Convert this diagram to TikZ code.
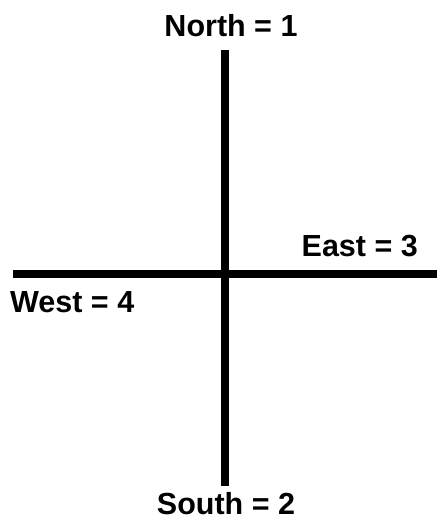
\documentclass[tikz,border=0pt]{standalone}
\usepackage{fontspec}
\setmainfont{Liberation Sans}
\begin{document}
\begin{tikzpicture}[x=1pt,y=-1pt,
  axis/.style={line width=8pt},
  lbl/.style={font=\fontsize{30.5}{32}\selectfont\bfseries, inner sep=0pt}]
\useasboundingbox (0,0) rectangle (437,524);
\coordinate (ntop) at (225,50);
\coordinate (sbot) at (225,486);
\coordinate (wend) at (13,274);
\coordinate (eend) at (437,274);
\draw[axis] (ntop) -- (sbot);
\draw[axis] (wend) -- (eend);
\node[lbl, anchor=base] (north) at (231,37) {North = 1};
\node[lbl, anchor=base] (south) at (226,514) {South = 2};
\node[lbl, anchor=base east] (east) at (418,256) {East = 3};
\node[lbl, anchor=base west] (west) at (10,312) {West = 4};
\end{tikzpicture}
\end{document}
